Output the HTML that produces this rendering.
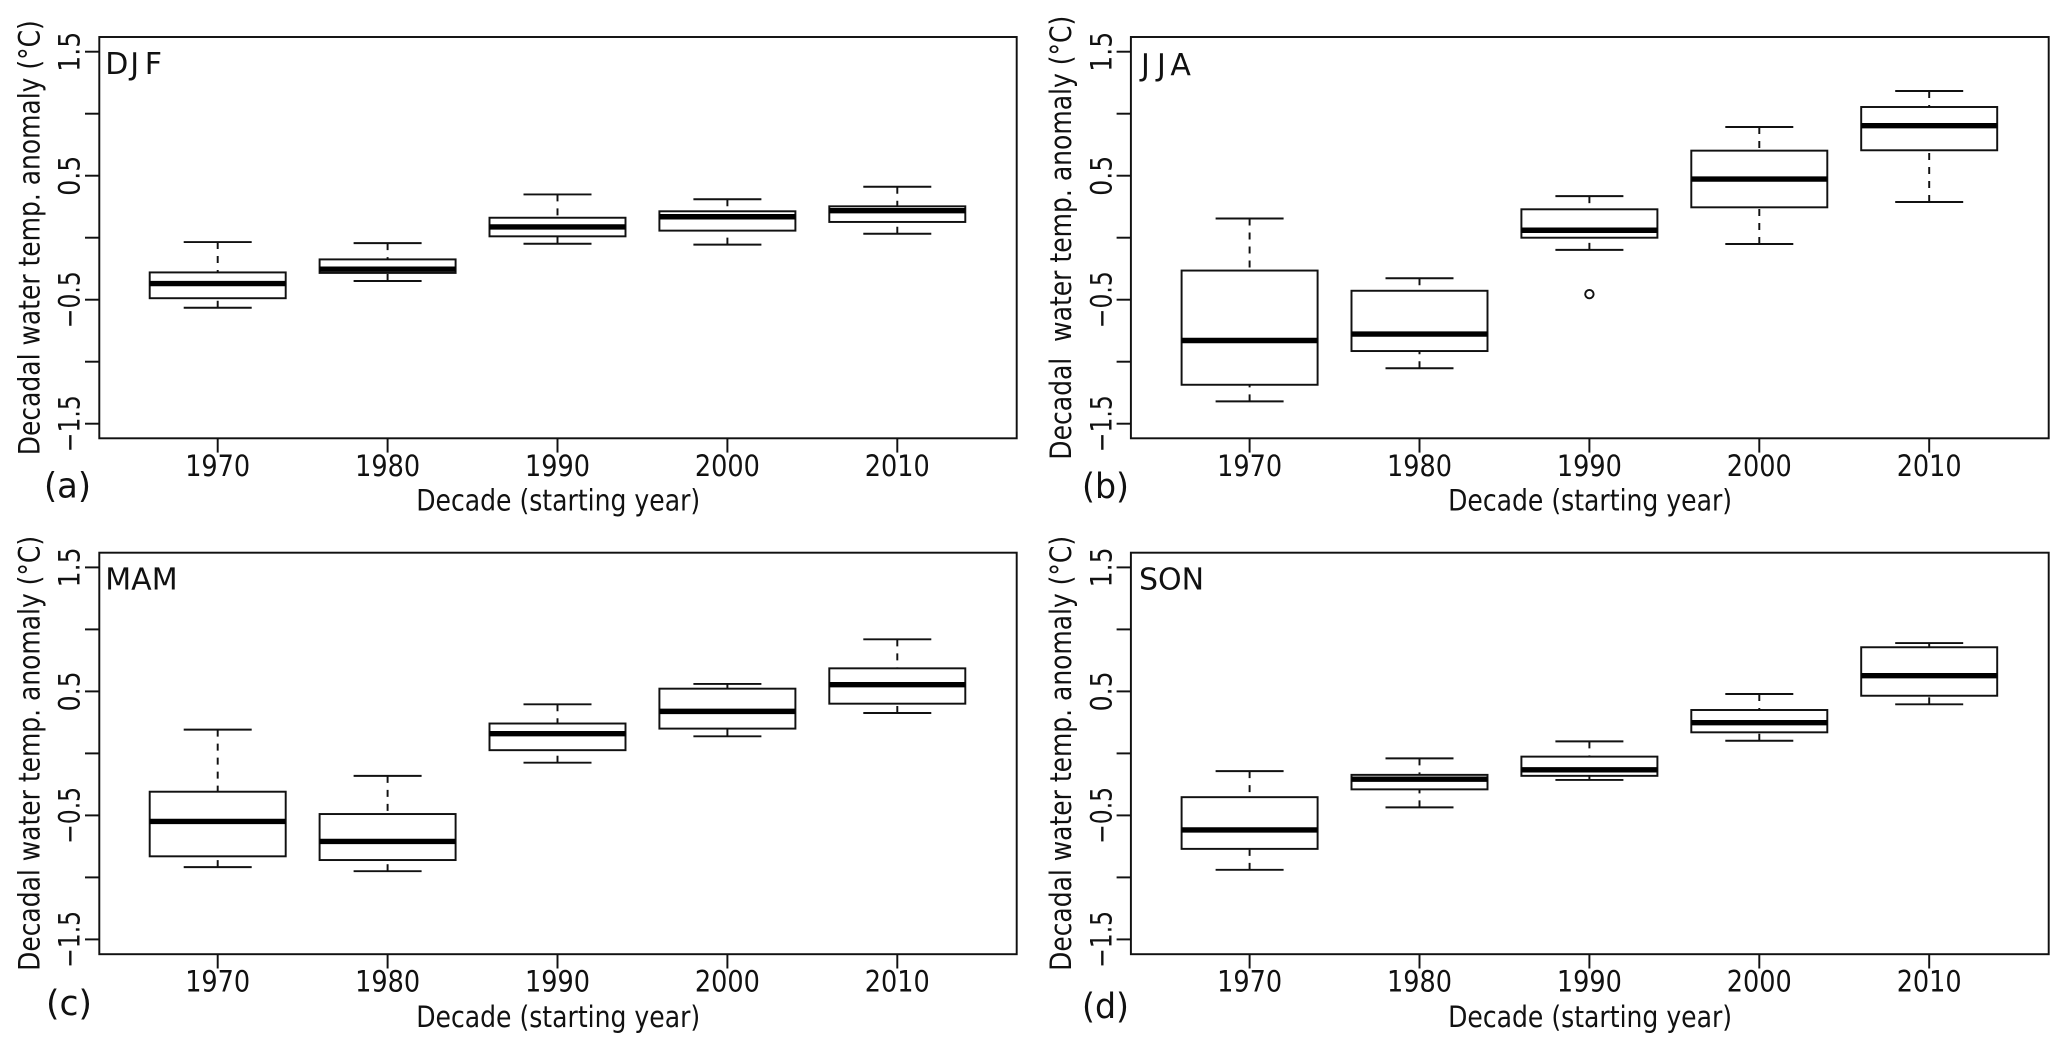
<!DOCTYPE html>
<html lang="en">
<head>
<meta charset="utf-8">
<title>Decadal water temperature anomaly by season</title>
<style>
  html, body { margin: 0; padding: 0; background: #fff; }
  svg { display: block; }
  text { font-family: "DejaVu Sans", "Liberation Sans", sans-serif; fill: #111; white-space: pre; }
</style>
</head>
<body>
<svg id="figure" xmlns="http://www.w3.org/2000/svg" width="2067" height="1050" viewBox="0 0 2067 1050">
  <rect x="0" y="0" width="2067" height="1050" fill="#ffffff"></rect>
</svg>
<script>
// ---- chart data ----
const decades = [1970, 1980, 1990, 2000, 2010];
const decadeLabels = ['1970', '1980', '1990', '2000', '2010'];
const yTickValues = [-1.5, -1, -0.5, 0, 0.5, 1, 1.5];
const yTickLabels = ['\u22121.5', '', '\u22120.5', '', '0.5', '', '1.5'];

const djfUpperWhisker = [-0.035, -0.044, 0.349, 0.31, 0.411];
const djfUpperQuartile = [-0.28, -0.175, 0.161, 0.213, 0.253];
const djfMedian = [-0.37, -0.254, 0.087, 0.169, 0.218];
const djfLowerQuartile = [-0.488, -0.284, 0.011, 0.057, 0.127];
const djfLowerWhisker = [-0.565, -0.349, -0.049, -0.056, 0.032];
const djfOutliers = [];

const jjaUpperWhisker = [0.155, -0.327, 0.335, 0.893, 1.183];
const jjaUpperQuartile = [-0.265, -0.428, 0.229, 0.702, 1.054];
const jjaMedian = [-0.829, -0.777, 0.06, 0.473, 0.903];
const jjaLowerQuartile = [-1.186, -0.914, 0, 0.245, 0.705];
const jjaLowerWhisker = [-1.32, -1.053, -0.098, -0.051, 0.288];
const jjaOutliers = [{ decade: 1990, value: -0.455 }];

const mamUpperWhisker = [0.192, -0.181, 0.396, 0.56, 0.92];
const mamUpperQuartile = [-0.309, -0.489, 0.241, 0.522, 0.686];
const mamMedian = [-0.549, -0.71, 0.159, 0.339, 0.554];
const mamLowerQuartile = [-0.83, -0.86, 0.026, 0.2, 0.401];
const mamLowerWhisker = [-0.917, -0.95, -0.075, 0.138, 0.326];
const mamOutliers = [];

const sonUpperWhisker = [-0.143, -0.04, 0.097, 0.479, 0.89];
const sonUpperQuartile = [-0.353, -0.173, -0.026, 0.35, 0.856];
const sonMedian = [-0.617, -0.208, -0.132, 0.248, 0.627];
const sonLowerQuartile = [-0.77, -0.29, -0.181, 0.17, 0.465];
const sonLowerWhisker = [-0.939, -0.435, -0.214, 0.102, 0.396];
const sonOutliers = [];

// ---- drawing ----
const SVG_NS = 'http://www.w3.org/2000/svg';
const INK = '#111';
const LINE = 1.95;

function make(tag, parent, attrs) {
  const node = document.createElementNS(SVG_NS, tag);
  for (const key in attrs) node.setAttribute(key, attrs[key]);
  parent.appendChild(node);
  return node;
}

function seg(parent, x1, y1, x2, y2, width, dash) {
  const attrs = { x1: x1, y1: y1, x2: x2, y2: y2, stroke: INK, 'stroke-width': width };
  if (dash) attrs['stroke-dasharray'] = dash;
  return make('line', parent, attrs);
}

function drawPanel(cfg) {
  const xScale = function (decade) { return cfg.x1970 + (decade - 1970) * 16.99; };
  const yScale = function (value) { return cfg.yZero - value * 124; };
  const root = document.getElementById('figure');

  const panel = make('g', root, {});
  
  

  const frame = make('rect', panel, {
    x: cfg.left, y: cfg.top, width: cfg.right - cfg.left, height: cfg.bottom - cfg.top,
    fill: '#fff', stroke: INK, 'stroke-width': LINE
  });
  
  

  // y axis
  yTickValues.forEach(function (value, i) {
    const y = yScale(value);
    const tick = seg(panel, cfg.left - 14.3, y, cfg.left, y, LINE);
    
    
    const label = yTickLabels[i];
    if (label) {
      const t = make('text', panel, {
        transform: 'translate(' + cfg.yLabelX + ',' + y + ') rotate(-90)',
        'text-anchor': 'middle', 'font-size': 29,
        textLength: label.length > 3 ? 57 : 40, lengthAdjust: 'spacingAndGlyphs'
      });
      t.textContent = label;
      
      
    }
  });

  // x axis
  decades.forEach(function (decade, i) {
    const x = xScale(decade);
    const tick = seg(panel, x, cfg.bottom, x, cfg.bottom + 14.3, LINE);
    
    
    const t = make('text', panel, {
      x: x, y: cfg.xLabelY, 'text-anchor': 'middle', 'font-size': 29,
      textLength: 65, lengthAdjust: 'spacingAndGlyphs'
    });
    t.textContent = decadeLabels[i];
    
    
  });

  // boxes
  decades.forEach(function (decade, i) {
    const x = xScale(decade);
    const box = make('g', panel, {});
    
    

    const hi = yScale(cfg.high[i]);
    const q3 = yScale(cfg.q3[i]);
    const med = yScale(cfg.median[i]);
    const q1 = yScale(cfg.q1[i]);
    const lo = yScale(cfg.low[i]);

    const upper = seg(box, x, hi, x, q3, LINE, '7 7');
    
    
    const lower = seg(box, x, lo, x, q1, LINE, '7 7');
    
    
    const capHi = seg(box, x - 34, hi, x + 34, hi, LINE);
    
    
    const capLo = seg(box, x - 34, lo, x + 34, lo, LINE);
    
    

    const body = make('rect', box, {
      x: x - 68, y: q3, width: 136, height: q1 - q3,
      fill: '#fff', stroke: INK, 'stroke-width': LINE
    });
    
    

    const medianLine = seg(box, x - 68, med, x + 68, med, 5.4);
    medianLine.setAttribute('stroke', '#000');
    
    
  });

  // outliers
  cfg.outliers.forEach(function (point) {
    const c = make('circle', panel, {
      cx: xScale(point.decade), cy: yScale(point.value), r: 4.2,
      fill: 'none', stroke: INK, 'stroke-width': LINE
    });
    
    
  });

  // titles
  const yTitle = make('text', panel, {
    transform: 'translate(' + cfg.yTitleX + ',' + cfg.yZero + ') rotate(-90)',
    'text-anchor': 'middle', 'font-size': 29,
    textLength: cfg.yTitleLength, lengthAdjust: 'spacingAndGlyphs'
  });
  yTitle.textContent = cfg.yTitle;
  
  

  const xTitle = make('text', panel, {
    x: xScale(1990) + 0.7, y: cfg.xTitleY, 'text-anchor': 'middle', 'font-size': 29,
    textLength: 284, lengthAdjust: 'spacingAndGlyphs'
  });
  xTitle.textContent = 'Decade (starting year)';
  
  

  const season = make('text', panel, { x: cfg.seasonX, y: cfg.seasonY, 'font-size': 30 });
  season.textContent = cfg.name;
  
  

  const letter = make('text', panel, {
    x: cfg.letterX, y: cfg.letterY, 'font-size': 35,
    textLength: cfg.letterWidth, lengthAdjust: 'spacingAndGlyphs'
  });
  letter.textContent = cfg.letter;
  
  
}

drawPanel({
  name: 'DJF', letter: '(a)',
  high: djfUpperWhisker, q3: djfUpperQuartile, median: djfMedian, q1: djfLowerQuartile, low: djfLowerWhisker, outliers: djfOutliers,
  left: 99.3, right: 1016.7, top: 37, bottom: 438.3, x1970: 217.7, yZero: 237.7,
  yLabelX: 79.5, yTitleX: 39.3, yTitleLength: 435, xLabelY: 476, xTitleY: 510.5,
  yTitle: 'Decadal water temp. anomaly (\u00B0C)',
  seasonX: '105.3 130.3 144.7', seasonY: 74, letterX: 44, letterY: 497.5, letterWidth: 47
});

drawPanel({
  name: 'JJA', letter: '(b)',
  high: jjaUpperWhisker, q3: jjaUpperQuartile, median: jjaMedian, q1: jjaLowerQuartile, low: jjaLowerWhisker, outliers: jjaOutliers,
  left: 1130.9, right: 2048.7, top: 37, bottom: 438.3, x1970: 1249.6, yZero: 237.7,
  yLabelX: 1111.7, yTitleX: 1071, yTitleLength: 444, xLabelY: 476, xTitleY: 510.5,
  yTitle: 'Decadal  water temp. anomaly (\u00B0C)',
  seasonX: '1141 1157 1170.4', seasonY: 75, letterX: 1082, letterY: 498, letterWidth: 47
});

drawPanel({
  name: 'MAM', letter: '(c)',
  high: mamUpperWhisker, q3: mamUpperQuartile, median: mamMedian, q1: mamLowerQuartile, low: mamLowerWhisker, outliers: mamOutliers,
  left: 99.3, right: 1016.7, top: 552.7, bottom: 954.2, x1970: 217.7, yZero: 753.4,
  yLabelX: 79.5, yTitleX: 39.3, yTitleLength: 435, xLabelY: 991.5, xTitleY: 1027,
  yTitle: 'Decadal water temp. anomaly (\u00B0C)',
  seasonX: '105.3', seasonY: 589.3, letterX: 46, letterY: 1015, letterWidth: 46
});

drawPanel({
  name: 'SON', letter: '(d)',
  high: sonUpperWhisker, q3: sonUpperQuartile, median: sonMedian, q1: sonLowerQuartile, low: sonLowerWhisker, outliers: sonOutliers,
  left: 1130.9, right: 2048.7, top: 552.7, bottom: 954.2, x1970: 1249.6, yZero: 753.4,
  yLabelX: 1111.7, yTitleX: 1071, yTitleLength: 435, xLabelY: 991.5, xTitleY: 1027,
  yTitle: 'Decadal water temp. anomaly (\u00B0C)',
  seasonX: '1139', seasonY: 589.3, letterX: 1082, letterY: 1018, letterWidth: 47
});
</script>
</body>
</html>
